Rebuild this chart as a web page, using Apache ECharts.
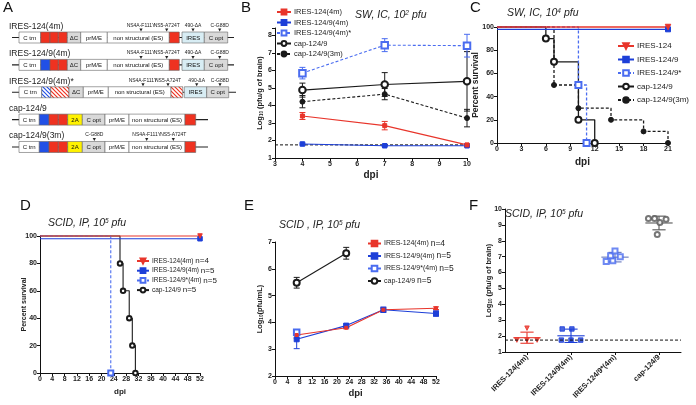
<!DOCTYPE html>
<html><head><meta charset="utf-8">
<script src="https://cdn.jsdelivr.net/npm/echarts@6/dist/echarts.min.js"></script>
<style>html,body{margin:0;padding:0;background:#fff}#c{width:696px;height:405px}</style>
</head><body><div id="c"></div>
<script>
// ================= DATA =================
const LOD = 1.75;

// Panel A: constructs (schematic units along genome)
const A_ROWS = ['IRES-124(4m)','IRES-124/9(4m)','IRES-124/9(4m)*','cap-124/9','cap-124/9(3m)'];
const A_BACKBONE = [[12,234],[12,234],[12,236],[12,208],[12,208]];
const A_SEGMENTS = [
  [0,19,40.7,'C trn','w'],[0,40.7,50,'','r'],[0,50,58.3,'','r'],[0,58.3,67.3,'','r'],[0,67.3,80.7,'ΔC','g'],[0,80.7,107.3,'prM/E','w'],[0,107.3,169.3,'non structural (ES)','w'],[0,169.3,179.3,'','r'],[0,182,204.3,'IRES','i'],[0,204.3,227.7,'C opt','g'],
  [1,19,40.7,'C trn','w'],[1,40.7,50,'','b'],[1,50,58.3,'','r'],[1,58.3,67.3,'','r'],[1,67.3,80.7,'ΔC','g'],[1,80.7,107.3,'prM/E','w'],[1,107.3,169.3,'non structural (ES)','w'],[1,169.3,179.3,'','r'],[1,182,204.3,'IRES','i'],[1,204.3,227.7,'C opt','g'],
  [2,19,41.7,'C trn','w'],[2,41.7,50.7,'','hb'],[2,50.7,69,'','hr'],[2,69,83.3,'ΔC','g'],[2,83.3,108.3,'prM/E','w'],[2,108.3,171,'non structural (ES)','w'],[2,171,182.7,'','hr'],[2,184.3,206.7,'IRES','i'],[2,206.7,228.7,'C opt','g'],
  [3,19,39.3,'C trn','w'],[3,39.3,49,'','b'],[3,49,58.3,'','r'],[3,58.3,67.7,'','r'],[3,67.7,82.3,'2A','y'],[3,82.3,105,'C opt','g'],[3,105,129,'prM/E','w'],[3,129,185,'non structural (ES)','w'],[3,185,195.7,'','r'],
  [4,19,39.3,'C trn','w'],[4,39.3,49,'','b'],[4,49,58.3,'','r'],[4,58.3,67.7,'','r'],[4,67.7,82.3,'2A','y'],[4,82.3,105,'C opt','g'],[4,105,129,'prM/E','w'],[4,129,185,'non structural (ES)','w'],[4,185,195.7,'','r']
];
const A_MUTATIONS = [
  [0,141,'NS4A-F111Y'],[0,166.7,'NS5-A724T'],[0,193,'490-ΔA'],[0,219.7,'C-G88D'],
  [1,141,'NS4A-F111Y'],[1,166.7,'NS5-A724T'],[1,193,'490-ΔA'],[1,219.7,'C-G88D'],
  [2,143,'NS4A-F111Y'],[2,168,'NS5-A724T'],[2,196.7,'490-ΔA'],[2,220,'C-G88D'],
  [4,94.3,'C-G88D'],[4,146.7,'NS4A-F111Y'],[4,173.3,'NS5-A724T']
];

// Panel B
const B_DPI = [4, 7, 10];
const B_NAMES = ['IRES-124(4m)','IRES-124/9(4m)','IRES-124/9(4m)*','cap-124/9','cap-124/9(3m)'];
const B_MEAN = [[3.4,2.85,1.75],[1.8,1.7,1.7],[5.85,7.45,7.42],[4.88,5.2,5.38],[4.22,4.65,3.28]];
const B_SD = [[0.2,0.24,0.05],[0.05,0.04,0.04],[0.33,0.37,0.65],[0.4,0.68,1.7],[0.35,0.32,0.5]];

// Panel C
const C_NAMES = ['IRES-124','IRES-124/9','IRES-124/9*','cap-124/9','cap-124/9(3m)'];
const C_DATA = [
  [[0,100],[21,100]],
  [[0,98],[21,98]],
  [[0,100],[10,50],[11,0]],
  [[0,100],[6,90],[7,70],[10,20],[12,0]],
  [[0,100],[7,50],[10,30],[14,20],[18,10],[21,0]]
];

// Panel D
const D_NAMES = ['IRES-124(4m)','IRES-124/9(4m)','IRES-124/9*(4m)','cap-124/9'];
const D_N = [4,5,5,5];
const D_DATA = [
  [[0,100],[52,100]],
  [[0,98],[52,98]],
  [[0,100],[23,0]],
  [[0,100],[26,80],[27,60],[29,40],[30,20],[31,0]]
];

// Panel E
const E_NAMES = ['IRES-124(4m)','IRES-124/9(4m)','IRES-124/9*(4m)','cap-124/9'];
const E_N = [4,5,5,5];
const E_DPI = [[7,23,35,52],[7,23,35,52],[7],[7,23]];
const E_MEAN = [[3.53,3.8,4.47,4.53],[3.37,3.88,4.47,4.33],[3.63],[5.48,6.58]];
const E_SD = [[0.12,0.04,0.06,0.05],[0.35,0.06,0.1,0.1],[0.1],[0.2,0.22]];

// Panel F
const F_CATS = ['IRES-124(4m)','IRES-124/9(4m)','IRES-124/9*(4m)','cap-124/9'];
const F_POINTS = [
  [[0,2.5],[-0.23,1.75],[0,1.75],[0.23,1.75]],
  [[-0.2,2.45],[0.02,2.45],[-0.22,1.75],[0,1.75],[0.22,1.75]],
  [[-0.2,6.7],[-0.05,6.75],[-0.1,7.05],[0,7.35],[0.12,7.0]],
  [[-0.24,9.4],[-0.1,9.4],[0.02,9.15],[0.16,9.35],[-0.04,8.4]]
];
const F_MEAN = [1.9, 2.02, 6.97, 9.12];
const F_SD = [0.35, 0.42, 0.3, 0.43];

// ================= STYLE =================
const FONT = 'Arial, "Liberation Sans", Helvetica, sans-serif';
const RED = '#e8352b', BLUE = '#1d3fd8', LBLUE = '#4a6cf0', BLK = '#1a1a1a';
const TRI_DOWN = 'path://M0,0L10,0L5,9Z';
const SEP = '§';
const nm = (p, n) => p + SEP + n;

function hatch(color){
  const c = document.createElement('canvas'); c.width = c.height = 4;
  const g = c.getContext('2d');
  g.fillStyle = '#fff'; g.fillRect(0,0,4,4);
  g.strokeStyle = color; g.lineWidth = 1.2;
  g.beginPath();
  g.moveTo(-1,-1); g.lineTo(5,5);
  g.moveTo(-1,3); g.lineTo(1,5);
  g.moveTo(3,-1); g.lineTo(5,1);
  g.stroke();
  return {image: c, repeat: 'repeat'};
}
const A_FILL = {w:'#ffffff', g:'#d9d9d9', r:'#ef3220', b:'#2150e6', y:'#fff200', i:'#d8edf4', hr:hatch('#ef3220'), hb:hatch('#2150e6')};

function renderRow(params, api){
  const i = params.dataIndex;
  const yc = api.coord([0, i])[1];
  const X = v => api.coord([v, i])[0];
  const ch = [];
  const bb = A_BACKBONE[i];
  ch.push({type:'line', shape:{x1:X(bb[0]), y1:yc, x2:X(bb[1]), y2:yc}, style:{stroke:'#222', lineWidth:1.2}});
  A_SEGMENTS.filter(s => s[0] === i).forEach(s => {
    const x0 = X(s[1]), x1 = X(s[2]);
    ch.push({type:'rect', shape:{x:x0, y:yc-5.5, width:x1-x0, height:11}, style:{fill:A_FILL[s[4]], stroke:'#666', lineWidth:0.6}});
    if (s[3]) ch.push({type:'text', style:{text:s[3], x:(x0+x1)/2, y:yc+0.5, align:'center', verticalAlign:'middle', fontSize:6, fontFamily:FONT, fill:'#111'}});
  });
  A_MUTATIONS.filter(m => m[0] === i).forEach(m => {
    const x = X(m[1]);
    ch.push({type:'text', style:{text:m[2], x:x, y:yc-12, align:'center', verticalAlign:'middle', fontSize:5, fontFamily:FONT, fill:'#222'}});
    ch.push({type:'polygon', shape:{points:[[x-1.6,yc-9],[x+1.6,yc-9],[x,yc-6]]}, style:{fill:'#222'}});
  });
  ch.push({type:'text', style:{text:A_ROWS[i], x:X(bb[0])-3, y:yc-11, align:'left', verticalAlign:'middle', fontSize:8.5, fontFamily:FONT, fill:'#222'}});
  return {type:'group', children:ch};
}

function errBar(color, cap){
  return function(params, api){
    const x = api.value(0), m = api.value(1), e = api.value(2);
    const t = api.coord([x, m+e]), b = api.coord([x, m-e]);
    const st = {stroke:color, lineWidth:1};
    return {type:'group', children:[
      {type:'line', shape:{x1:t[0], y1:t[1], x2:t[0], y2:b[1]}, style:st},
      {type:'line', shape:{x1:t[0]-cap, y1:t[1], x2:t[0]+cap, y2:t[1]}, style:st},
      {type:'line', shape:{x1:t[0]-cap, y1:b[1], x2:t[0]+cap, y2:b[1]}, style:st}
    ]};
  };
}

const F_LINE_COLORS = [RED, BLUE, '#6677bb', '#555'];
function fMean(params, api){
  const c = api.value(0), m = api.value(1), e = api.value(2);
  const col = F_LINE_COLORS[params.dataIndex];
  const L = api.coord([c-0.31, m]), R = api.coord([c+0.31, m]);
  const t = api.coord([c, m+e]), b = api.coord([c, m-e]);
  const cl = api.coord([c-0.15, m])[0], cr = api.coord([c+0.15, m])[0];
  const st = {stroke:col, lineWidth:1.1};
  return {type:'group', children:[
    {type:'line', shape:{x1:L[0], y1:L[1], x2:R[0], y2:R[1]}, style:st},
    {type:'line', shape:{x1:t[0], y1:t[1], x2:b[0], y2:b[1]}, style:st},
    {type:'line', shape:{x1:cl, y1:t[1], x2:cr, y2:t[1]}, style:st},
    {type:'line', shape:{x1:cl, y1:b[1], x2:cr, y2:b[1]}, style:st}
  ]};
}

function vAxis(gi, min, max, interval, extra){
  return Object.assign({
    type:'value', gridIndex:gi, min:min, max:max, interval:interval, nameMoveOverlap:false,
    axisLine:{show:true, onZero:false, lineStyle:{color:'#111', width:1}},
    axisTick:{show:true, length:3, lineStyle:{color:'#111'}},
    splitLine:{show:false},
    axisLabel:{fontSize:7, fontWeight:'bold', color:'#222', margin:3, fontFamily:FONT}
  }, extra || {});
}
const nameStyle = (sz) => ({fontSize:sz, fontWeight:'bold', color:'#222', fontFamily:FONT,
  rich:{s:{fontSize:sz*0.6, fontWeight:'bold', verticalAlign:'bottom', color:'#222', fontFamily:FONT}}});

const B_STYLE = [
  {color:RED, dash:'solid', symbol:'rect', size:4},
  {color:BLUE, dash:'solid', symbol:'rect', size:4.5},
  {color:LBLUE, dash:[3,2], symbol:'emptyRect', size:6.5},
  {color:BLK, dash:'solid', symbol:'emptyCircle', size:6.5},
  {color:BLK, dash:[3,2], symbol:'circle', size:5}
];
const C_STYLE = [
  {color:RED, dash:'solid', symbol:TRI_DOWN, size:5.5},
  {color:BLUE, dash:'solid', symbol:'rect', size:5},
  {color:LBLUE, dash:[3,2], symbol:'emptyRect', size:6},
  {color:BLK, dash:'solid', symbol:'emptyCircle', size:6},
  {color:BLK, dash:[3,2], symbol:'circle', size:5}
];
const D_STYLE = [
  {color:RED, dash:'solid', symbol:TRI_DOWN, size:4.5},
  {color:BLUE, dash:'solid', symbol:'rect', size:4.5},
  {color:LBLUE, dash:[3,2], symbol:'emptyRect', size:5},
  {color:BLK, dash:'solid', symbol:'emptyCircle', size:4.5}
];
const E_STYLE = [
  {color:RED, dash:'solid', symbol:'rect', size:3},
  {color:BLUE, dash:'solid', symbol:'rect', size:5},
  {color:LBLUE, dash:'solid', symbol:'emptyRect', size:5.5},
  {color:BLK, dash:'solid', symbol:'emptyCircle', size:6}
];
const F_STYLE = [
  {color:RED, symbol:TRI_DOWN, size:4.5},
  {color:BLUE, symbol:'rect', size:4.5},
  {color:LBLUE, symbol:'emptyRect', size:5},
  {color:'#555', symbol:'emptyCircle', size:5}
];

// ================= SERIES =================
const series = [];
series.push({type:'custom', xAxisIndex:0, yAxisIndex:0, data:A_ROWS.map((r,i)=>[0,i]), renderItem:renderRow, silent:true});

function lineSeries(name, xi, yi, data, st, extra){
  return Object.assign({
    type:'line', name:name, xAxisIndex:xi, yAxisIndex:yi, data:data,
    symbol:st.symbol, symbolSize:st.size, clip:false, animation:false,
    lineStyle:{color:st.color, width:1.1, type:st.dash},
    itemStyle:{color:st.color, borderColor:st.color, borderWidth:1}
  }, extra || {});
}

// B
series.push({type:'line', xAxisIndex:1, yAxisIndex:1, data:[[3,LOD],[10,LOD]], symbol:'none', lineStyle:{color:'#111', width:1, type:[3,2]}, silent:true});
[3,4,2,1,0].forEach(k => {
  series.push({type:'custom', xAxisIndex:1, yAxisIndex:1, renderItem:errBar(B_STYLE[k].color, 3), data:B_DPI.map((d,j)=>[d, B_MEAN[k][j], B_SD[k][j]]), silent:true});
  series.push(lineSeries(nm('B',B_NAMES[k]), 1, 1, B_DPI.map((d,j)=>[d, B_MEAN[k][j]]), B_STYLE[k]));
});

// C
const firstNone = pts => pts.map((p,k) => k === 0 ? {value:p, symbol:'none'} : p);
[4,3,2,1,0].forEach(k => {
  series.push(lineSeries(nm('C',C_NAMES[k]), 2, 2, firstNone(C_DATA[k]), C_STYLE[k], {step:'end', lineStyle:{color:C_STYLE[k].color, width:1.3, type:C_STYLE[k].dash}}));
});

// D
[3,2,1,0].forEach(k => {
  series.push(lineSeries(nm('D',D_NAMES[k]), 3, 3, firstNone(D_DATA[k]), D_STYLE[k], {step:'end'}));
});

// E
[3,2,1,0].forEach(k => {
  series.push({type:'custom', xAxisIndex:4, yAxisIndex:4, renderItem:errBar(E_STYLE[k].color, 3), data:E_DPI[k].map((d,j)=>[d, E_MEAN[k][j], E_SD[k][j]]), silent:true});
  series.push(lineSeries(nm('E',E_NAMES[k]), 4, 4, E_DPI[k].map((d,j)=>[d, E_MEAN[k][j]]), E_STYLE[k]));
});

// F
series.push({type:'line', xAxisIndex:6, yAxisIndex:5, data:[[0,LOD],[4,LOD]], symbol:'none', lineStyle:{color:'#111', width:1, type:[3,2]}, silent:true});
series.push({type:'custom', xAxisIndex:6, yAxisIndex:5, renderItem:fMean, data:F_MEAN.map((m,i)=>[i+0.5, m, F_SD[i]]), silent:true});
F_POINTS.forEach((pts, i) => {
  series.push({type:'scatter', xAxisIndex:6, yAxisIndex:5, data:pts.map(p=>[i+0.5+p[0], p[1]]),
    symbol:F_STYLE[i].symbol, symbolSize:F_STYLE[i].size,
    itemStyle:{color:F_STYLE[i].color, borderColor:F_STYLE[i].color, borderWidth:1}, silent:true});
});

// ================= OPTION =================
const letter = (t, l, tp) => ({text:t, left:l, top:tp, padding:0, textStyle:{fontSize:15, fontWeight:'normal', color:'#111', fontFamily:FONT}});
const sub = (t, l, tp) => ({text:t, left:l, top:tp, padding:0, textStyle:{fontSize:10.5, fontStyle:'italic', fontWeight:'normal', color:'#222', fontFamily:FONT,
  rich:{sup:{fontSize:6.5, fontStyle:'italic', verticalAlign:'top', color:'#222', fontFamily:FONT}}}});

const legendBase = (panel, names, left, top, iw, ih, gap, fs, nArr) => ({
  data: names.map(n => nm(panel, n)), left:left, top:top, orient:'vertical', padding:0,
  itemWidth:iw, itemHeight:ih, itemGap:gap, selectedMode:false,
  textStyle:{fontSize:fs, color:'#222', fontFamily:FONT, padding:[0,0,0,-2], rich:{n:{fontSize:fs+1.5, color:'#222', fontFamily:FONT}}},
  formatter: n => { const s = n.split(SEP)[1]; if (!nArr) return s; const i = names.indexOf(s); return s + ' {n|n=' + nArr[i] + '}'; }
});

const option = {
  animation:false,
  backgroundColor:'#fff',
  title:[
    letter('A',3,0), letter('B',241,0), letter('C',470,0), letter('D',20,198), letter('E',244,198), letter('F',469,198),
    sub('SW, IC, 10{sup|2} pfu',355,10), sub('SW, IC, 10{sup|4} pfu',507,8), sub('SCID, IP, 10{sup|5} pfu',48,218),
    sub('SCID , IP, 10{sup|5} pfu',279,220), sub('SCID, IP, 10{sup|5} pfu',505,209)
  ],
  graphic:[
    {type:'text', x:476, y:85, rotation:Math.PI/2, silent:true,
     style:{text:'Percent survival', align:'center', verticalAlign:'middle', fontSize:8.5, fontWeight:'bold', fontFamily:FONT, fill:'#222'}}
  ],
  legend:[
    legendBase('B', B_NAMES, 276, 8, 14, 6, 2.5, 7.5),
    legendBase('C', C_NAMES, 617, 42, 16, 7, 5.5, 8),
    legendBase('D', D_NAMES, 136, 257, 12, 6, 1.7, 6.5, D_N),
    legendBase('E', E_NAMES, 367, 239, 13, 7, 3.5, 7, E_N)
  ],
  grid:[
    {left:0, top:0, width:240, height:160},
    {left:275, top:28, width:192, height:130},
    {left:497, top:27, width:171, height:116},
    {left:40, top:236, width:160, height:137},
    {left:275, top:242, width:161, height:134},
    {left:505, top:209, width:176, height:143}
  ],
  xAxis:[
    {type:'value', gridIndex:0, min:0, max:240, show:false},
    vAxis(1, 3, 10, 1, {name:'dpi', nameLocation:'middle', nameGap:12, nameTextStyle:nameStyle(10)}),
    vAxis(2, 0, 21, 3, {name:'dpi', nameLocation:'middle', nameGap:14, nameTextStyle:nameStyle(10)}),
    vAxis(3, 0, 52, 4, {name:'dpi', nameLocation:'middle', nameGap:15, nameTextStyle:nameStyle(8)}),
    vAxis(4, 0, 52, 4, {name:'dpi', nameLocation:'middle', nameGap:12, nameTextStyle:nameStyle(9.5)}),
    {type:'category', gridIndex:5, data:F_CATS, boundaryGap:true,
      axisLine:{show:true, onZero:false, lineStyle:{color:'#111'}},
      axisTick:{show:true, alignWithLabel:true, length:3, lineStyle:{color:'#111'}},
      axisLabel:{rotate:45, fontSize:7.5, fontWeight:'bold', color:'#222', margin:4, fontFamily:FONT, interval:0}},
    {type:'value', gridIndex:5, min:0, max:4, show:false}
  ],
  yAxis:[
    {type:'value', gridIndex:0, min:-1.37, max:4.475, inverse:true, show:false},
    vAxis(1, 1, 8.43, 1, {axisLabel:{fontSize:7, fontWeight:'bold', color:'#222', margin:3, fontFamily:FONT, formatter:v => Number.isInteger(v) ? v : ''},
      name:'Log{s|10} (pfu/g of brain)', nameLocation:'middle', nameGap:11, nameTextStyle:nameStyle(7.5)}),
    vAxis(2, 0, 100, 20, {}),
    vAxis(3, 0, 100, 20, {name:'Percent survival', nameLocation:'middle', nameGap:12, nameTextStyle:nameStyle(7)}),
    vAxis(4, 2, 7, 1, {name:'Log{s|10}(pfu/mL)', nameLocation:'middle', nameGap:11, nameTextStyle:nameStyle(7.5)}),
    vAxis(5, 1, 10, 1, {name:'Log{s|10} (pfu/g of brain)', nameLocation:'middle', nameGap:12, nameTextStyle:nameStyle(7.5)})
  ],
  series: series
};

const chart = echarts.init(document.getElementById('c'), null, {renderer:'canvas'});
chart.setOption(option);
</script>
</body></html>
